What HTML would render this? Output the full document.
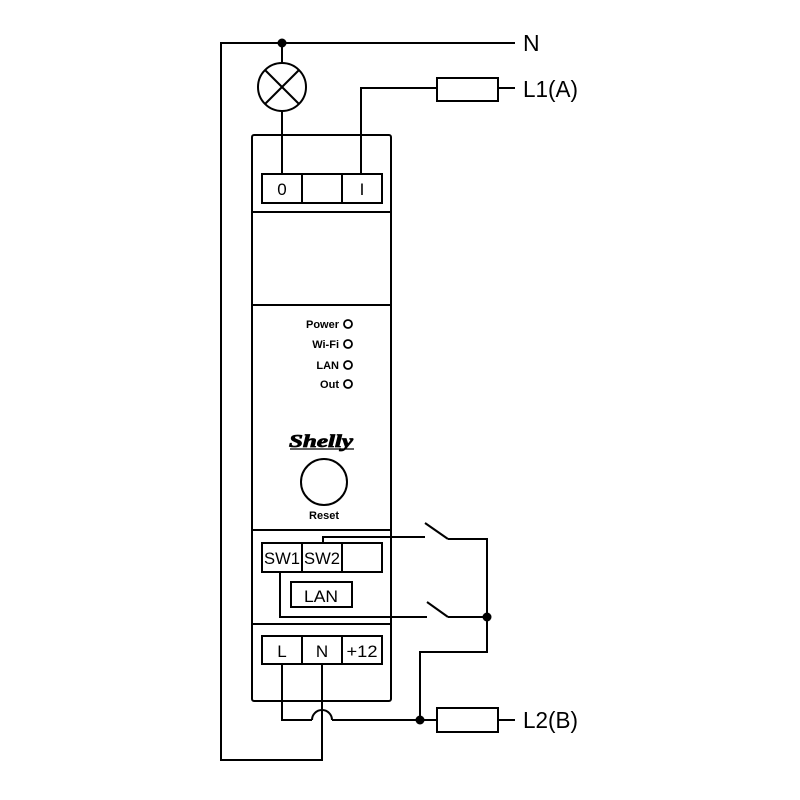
<!DOCTYPE html>
<html><head><style>html,body{margin:0;background:#fff}svg{display:block}</style></head>
<body>
<svg width="800" height="800" viewBox="0 0 800 800" xmlns="http://www.w3.org/2000/svg" font-family="Liberation Sans, sans-serif">
<g fill="none" stroke="#000" stroke-width="2">
<rect x="252" y="135" width="139" height="566" rx="2"/>
<line x1="252" y1="212" x2="391" y2="212"/>
<line x1="252" y1="305" x2="391" y2="305"/>
<line x1="252" y1="530" x2="391" y2="530"/>
<line x1="252" y1="624" x2="391" y2="624"/>
<rect x="262" y="174" width="120" height="29"/>
<line x1="302" y1="174" x2="302" y2="203"/><line x1="342" y1="174" x2="342" y2="203"/>
<rect x="262" y="543" width="120" height="29"/>
<line x1="302" y1="543" x2="302" y2="572"/><line x1="342" y1="543" x2="342" y2="572"/>
<rect x="291" y="582" width="61" height="25"/>
<rect x="262" y="636" width="120" height="28"/>
<line x1="302" y1="636" x2="302" y2="664"/><line x1="342" y1="636" x2="342" y2="664"/>
<circle cx="324" cy="482" r="23"/>
<polyline points="515,43 221,43 221,760 322,760 322,664"/>
<line x1="282" y1="43" x2="282" y2="63"/>
<circle cx="282" cy="87" r="24"/>
<line x1="265" y1="70" x2="299" y2="104"/><line x1="299" y1="70" x2="265" y2="104"/>
<line x1="282" y1="111" x2="282" y2="174"/>
<polyline points="361,174 361,88 515,88"/>
<rect x="437" y="78" width="61" height="23" fill="#fff"/>
<polyline points="282,664 282,720 312,720"/>
<path d="M312,720 A10,10 0 0 1 332,720"/>
<line x1="332" y1="720" x2="515" y2="720"/>
<rect x="437" y="708" width="61" height="24" fill="#fff"/>
<polyline points="420,720 420,652 487,652 487,539 448,539"/>
<line x1="425" y1="523" x2="448" y2="539"/>
<polyline points="425,537 323,537 323,543"/>
<polyline points="280,572 280,617 427,617"/>
<line x1="427" y1="602" x2="448" y2="617"/>
<line x1="448" y1="617" x2="487" y2="617"/>
<circle cx="348" cy="324" r="4" stroke-width="1.8"/>
<circle cx="348" cy="344" r="4" stroke-width="1.8"/>
<circle cx="348" cy="365" r="4" stroke-width="1.8"/>
<circle cx="348" cy="384" r="4" stroke-width="1.8"/>
</g>
<g fill="#000">
<circle cx="282" cy="43" r="4.5"/><circle cx="487" cy="617" r="4.5"/><circle cx="420" cy="720" r="4.5"/>
</g>
<g font-size="17" text-anchor="middle">
<text x="282" y="195">0</text><text x="362" y="195">I</text>
<text x="282" y="564" textLength="36" lengthAdjust="spacingAndGlyphs">SW1</text><text x="322" y="564" textLength="36" lengthAdjust="spacingAndGlyphs">SW2</text>
<text x="321" y="602" textLength="34" lengthAdjust="spacingAndGlyphs">LAN</text>
<text x="282" y="657">L</text><text x="322" y="657">N</text><text x="362" y="657" textLength="31" lengthAdjust="spacingAndGlyphs">+12</text>
</g>
<g font-size="11" font-weight="bold" text-anchor="end">
<text x="339" y="328">Power</text><text x="339" y="348">Wi-Fi</text><text x="339" y="369">LAN</text><text x="339" y="388">Out</text>
</g>
<text x="324" y="519" font-size="11" font-weight="bold" text-anchor="middle">Reset</text>
<text x="321" y="447" font-size="18" font-weight="bold" font-style="italic" font-family="Liberation Serif, serif" text-anchor="middle" stroke="#000" stroke-width="0.8" textLength="64" lengthAdjust="spacingAndGlyphs">Shelly</text>
<line x1="290" y1="449" x2="354" y2="449" stroke="#000" stroke-width="1.2"/>
<g font-size="23">
<text x="523" y="51">N</text><text x="523" y="97" textLength="55" lengthAdjust="spacingAndGlyphs">L1(A)</text><text x="523" y="728" textLength="55" lengthAdjust="spacingAndGlyphs">L2(B)</text>
</g>
</svg>
</body></html>
